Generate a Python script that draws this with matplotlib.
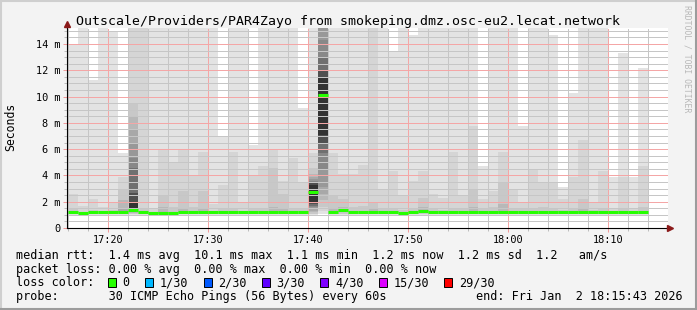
import numpy as np
import matplotlib.pyplot as plt
from matplotlib.patches import Rectangle
from matplotlib.lines import Line2D

plt.rcParams['font.family'] = ['DejaVu Sans Mono']

# une colonne de fumee par minute : debut du pas en minutes apres 17:00 (17:16 -> 18:13)
step_start = np.arange(16, 74)

# bandes de fumee (ms) : de la plus externe (claire) a la plus interne (foncee)
smoke_hi = [
    [14.0, 2.6, 1.5],
    [16, 1.7],
    [11.3, 2.2, 1.4],
    [16, 1.6],
    [14.9, 2.0, 1.4],
    [5.7, 3.9, 2.9, 2.1, 1.5],
    [16, 16, 9.4, 8.5, 7.5, 6.5, 5.3, 4.6, 2.7, 1.9],
    [16, 16, 1.5],
    [16, 1.5],
    [16, 5.9, 2.4, 1.6],
    [16, 5.0, 1.6],
    [16, 5.9, 2.8, 1.5],
    [16, 4.0, 1.6],
    [16, 5.8, 2.8, 1.5],
    [16, 1.8],
    [6.9, 3.3, 1.5],
    [16, 5.8, 1.5],
    [16, 2.0],
    [6.3, 4.0, 1.5],
    [16, 4.7, 1.5],
    [16, 5.9, 4.6, 1.6],
    [16, 3.6, 2.6, 1.5],
    [16, 5.3, 1.5],
    [9.1, 3.4, 1.5],
    [16, 5.7, 4.6, 4.1, 3.9, 3.7, 3.6, 3.5, 3.4, 3.3],
    [16, 16, 16, 16, 16, 16, 14.3, 12.9, 12.0, 11.4],
    [16, 5.7, 2.5, 1.5],
    [16, 4.1, 2.2, 1.6],
    [16, 4.1, 1.6],
    [16, 4.8, 1.7],
    [16, 16, 2.0, 1.5],
    [16, 2.9, 1.5],
    [13.4, 4.3, 1.5],
    [16, 2.5, 1.4],
    [14.7, 3.6, 1.5],
    [16, 4.3, 2.3, 1.6],
    [16, 2.6, 1.5],
    [16, 2.3, 1.4],
    [16, 5.8, 1.5],
    [16, 2.5, 1.5],
    [16, 7.8, 3.0, 1.6],
    [4.7, 2.2, 1.5],
    [16, 2.8, 1.6],
    [16, 5.8, 3.5, 1.8],
    [16, 3.0, 1.5],
    [7.8, 2.0, 1.5],
    [16, 4.4, 1.5],
    [16, 3.4, 1.6],
    [14.7, 3.5, 1.5],
    [3.1, 2.2, 1.4],
    [10.3, 3.9, 1.5],
    [16, 6.7, 2.2, 1.5],
    [16, 2.0, 1.4],
    [16, 4.3, 1.5],
    [3.9, 1.5],
    [13.3, 3.9, 1.5],
    [3.9, 1.5],
    [12.2, 4.7, 1.6],
]
smoke_lo = [
    [1.0, 1.1, 1.15],
    [1.0, 1.1],
    [1.0, 1.1, 1.15],
    [1.0, 1.1],
    [1.0, 1.1, 1.15],
    [1.0, 1.05, 1.1, 1.15, 1.2],
    [1.0, 1.05, 1.1, 1.15, 1.2, 1.25, 1.3, 1.35, 1.4, 1.45],
    [1.0, 1.05, 1.1],
    [1.0, 1.1],
    [1.0, 1.05, 1.08, 1.1],
    [1.0, 1.05, 1.1],
    [1.0, 1.05, 1.1, 1.15],
    [1.0, 1.05, 1.1],
    [1.0, 1.05, 1.1, 1.15],
    [1.0, 1.1],
    [1.0, 1.05, 1.15],
    [1.0, 1.05, 1.15],
    [1.0, 1.1],
    [1.0, 1.05, 1.1],
    [1.0, 1.05, 1.1],
    [1.0, 1.05, 1.1, 1.15],
    [1.0, 1.05, 1.1, 1.15],
    [1.0, 1.05, 1.1],
    [1.0, 1.05, 1.1],
    [1.0, 1.05, 1.1, 1.2, 1.3, 1.45, 1.6, 1.7, 1.8, 1.9],
    [1.05, 1.3, 1.6, 2.1, 2.6, 3.1, 4.4, 5.7, 6.4, 7.1],
    [1.0, 1.05, 1.1, 1.15],
    [1.0, 1.05, 1.1, 1.2],
    [1.0, 1.05, 1.1],
    [1.0, 1.05, 1.1],
    [1.0, 1.05, 1.1, 1.15],
    [1.0, 1.05, 1.1],
    [1.0, 1.05, 1.1],
    [1.0, 1.05, 1.1],
    [1.0, 1.05, 1.1],
    [1.0, 1.05, 1.1, 1.2],
    [1.0, 1.05, 1.1],
    [1.0, 1.05, 1.1],
    [1.0, 1.05, 1.1],
    [1.0, 1.05, 1.1],
    [1.0, 1.05, 1.1, 1.15],
    [1.0, 1.05, 1.1],
    [1.0, 1.05, 1.1],
    [1.0, 1.05, 1.1, 1.15],
    [1.0, 1.05, 1.1],
    [1.0, 1.05, 1.1],
    [1.0, 1.05, 1.1],
    [1.0, 1.05, 1.1],
    [1.0, 1.05, 1.1],
    [1.0, 1.05, 1.1],
    [1.0, 1.05, 1.1],
    [1.0, 1.05, 1.1, 1.15],
    [1.0, 1.05, 1.1],
    [1.0, 1.05, 1.1],
    [1.0, 1.1],
    [1.0, 1.05, 1.1],
    [1.0, 1.1],
    [1.0, 1.05, 1.1],
]
median_rtt = [1.22, 1.17, 1.20, 1.20, 1.20, 1.24, 1.34, 1.22, 1.17, 1.11,
              1.17, 1.20, 1.22, 1.22, 1.20, 1.24, 1.24, 1.24, 1.20, 1.20,
              1.20, 1.22, 1.22, 1.22, 2.77, 10.1, 1.24, 1.34, 1.24, 1.22,
              1.20, 1.20, 1.20, 1.17, 1.22, 1.32, 1.20, 1.22, 1.22, 1.22,
              1.20, 1.22, 1.24, 1.24, 1.20, 1.22, 1.20, 1.22, 1.20, 1.22,
              1.22, 1.22, 1.22, 1.20, 1.22, 1.22, 1.22, 1.22]

y_ticks = [0, 2, 4, 6, 8, 10, 12, 14]
y_labels = ["0", "2 m", "4 m", "6 m", "8 m", "10 m", "12 m", "14 m"]
x_ticks = [20, 30, 40, 50, 60, 70]
x_labels = ["17:20", "17:30", "17:40", "17:50", "18:00", "18:10"]

title = "Outscale/Providers/PAR4Zayo from smokeping.dmz.osc-eu2.lecat.network"
legend_lines = [
    "median rtt:  1.4 ms avg  10.1 ms max  1.1 ms min  1.2 ms now  1.2 ms sd  1.2   am/s",
    "packet loss: 0.00 % avg  0.00 % max  0.00 % min  0.00 % now",
    "loss color:",
    "probe:       30 ICMP Echo Pings (56 Bytes) every 60s",
]
end_text = "end: Fri Jan  2 18:15:43 2026"
loss_labels = ["0", "1/30", "2/30", "3/30", "4/30", "15/30", "29/30"]
loss_colors = ["#26ff00", "#00b8ff", "#0059ff", "#5e00ff", "#7e00ff", "#dd00ff", "#ff0000"]

# gris de la fumee, du plus clair au plus fonce
grays = ['#e3e3e3', '#d5d5d5', '#c8c8c8', '#b8b8b8', '#a8a8a8',
         '#989898', '#888888', '#707070', '#505050', '#333333']

W, H = 697, 310
fig = plt.figure(figsize=(W / 100, H / 100), dpi=100, facecolor='#f3f3f3')
ax = fig.add_axes([67 / W, 1 - 228 / H, (668 - 67) / W, 200 / H])
ax.set_facecolor('white')
ax.set_xlim(15.9, 76.0)
ax.set_ylim(0, 15.22)

# la fumee
for k, t in enumerate(step_start):
    for j, (hi, lo) in enumerate(zip(smoke_hi[k], smoke_lo[k])):
        ax.bar(t, hi - lo, bottom=lo, width=1, align='edge', color=grays[j],
               linewidth=0, zorder=1)

# la mediane (couleur = perte 0)
ax.hlines(median_rtt, step_start, step_start + 1, colors=loss_colors[0], lw=2.2, zorder=4)

# grille facon rrdtool
ax.set_xticks(x_ticks)
ax.set_xticklabels(x_labels)
ax.set_xticks(np.arange(16, 76, 2), minor=True)
ax.set_yticks(y_ticks)
ax.set_yticklabels(y_labels)
ax.set_yticks(np.arange(0.5, 15.2, 0.5), minor=True)
ax.set_axisbelow(False)
ax.grid(which='major', color='#f4a6a6', linestyle=(0, (1, 1)), lw=0.72, antialiased=False)
ax.grid(which='minor', color='#c6c6c6', linestyle=(0, (1, 1)), lw=0.72, antialiased=False)
ax.tick_params(which='major', length=3, width=0.7, color='#f09a9a', labelsize=7.4, pad=2)
ax.tick_params(which='minor', length=2, width=0.7, color='#bcbcbc')

for s in ['top', 'right']:
    ax.spines[s].set_visible(False)
for s in ['left', 'bottom']:
    ax.spines[s].set_color('black')
    ax.spines[s].set_linewidth(0.8)
    ax.spines[s].set_zorder(5)

# fleches des axes
ax.add_line(Line2D([0, 0], [1, 1.015], color='black', lw=0.8, transform=ax.transAxes, clip_on=False))
ax.plot(0, 1.02, marker='^', ms=5, color='#8b1a1a', transform=ax.transAxes, clip_on=False, zorder=6)
ax.plot(1.004, 0, marker='>', ms=5, color='#8b1a1a', transform=ax.transAxes, clip_on=False, zorder=6)

# textes
fig.text(0.5, 1 - 25 / H, title, ha='center', va='baseline', fontsize=9.5)
fig.text(11 / W, 1 - 127 / H, 'Seconds', rotation=90, ha='center', va='center', fontsize=8.3)
fig.text(687 / W, 1 - 5 / H, 'RRDTOOL / TOBI OETIKER', rotation=270, ha='center', va='top',
         fontsize=5.9, color='#b8b8b8')

cw = 7.08  # largeur d'un caractere en pixels
base = [259, 272.5, 286, 300]
for line, yb in zip(legend_lines, base):
    fig.text(16 / W, 1 - yb / H, line, va='baseline', fontsize=8.5)
fig.text((16 + 65 * cw) / W, 1 - base[3] / H, end_text, va='baseline', fontsize=8.5)

c = 13
for lab, col in zip(loss_labels, loss_colors):
    x0 = 16 + c * cw
    fig.add_artist(Rectangle((x0 / W, 1 - 287 / H), 8 / W, 9 / H, transform=fig.transFigure,
                             facecolor=col, edgecolor='black', lw=0.7))
    fig.text((16 + (c + 2.05) * cw) / W, 1 - base[2] / H, lab, va='baseline', fontsize=8.5)
    c = c + 2.05 + len(lab) + 2.2

# cadre
fig.add_artist(Line2D([0, 1], [1 - 1 / H, 1 - 1 / H], color='#cfcfcf', lw=1.5, transform=fig.transFigure))
fig.add_artist(Line2D([1 / W, 1 / W], [0, 1], color='#cfcfcf', lw=1.5, transform=fig.transFigure))
fig.add_artist(Line2D([0, 1], [1 / H, 1 / H], color='#9c9c9c', lw=1.5, transform=fig.transFigure))
fig.add_artist(Line2D([1 - 1 / W, 1 - 1 / W], [0, 1], color='#9c9c9c', lw=1.5, transform=fig.transFigure))

fig.savefig('out.png', dpi=100, facecolor=fig.get_facecolor())
